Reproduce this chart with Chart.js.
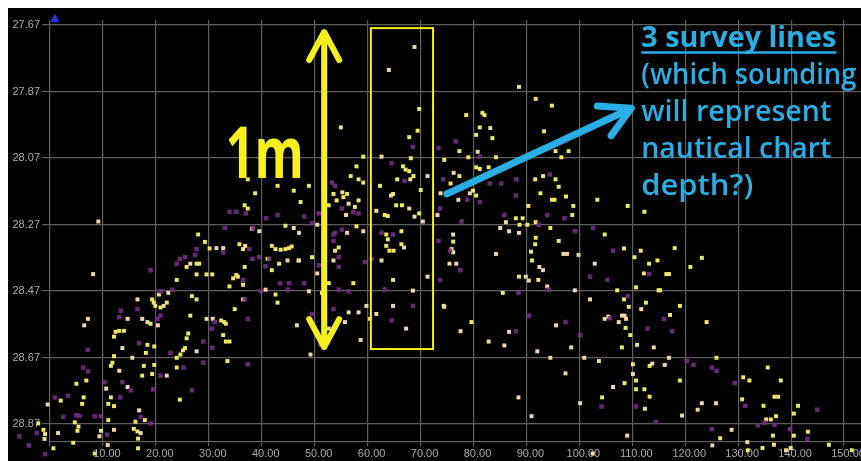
<!DOCTYPE html>
<html><head><meta charset="utf-8">
<script src="https://cdn.jsdelivr.net/npm/chart.js@4.4.1/dist/chart.umd.min.js"></script>
<style>
html,body{margin:0;padding:0;background:#fff;}
#wrap{position:absolute;left:8px;top:8px;width:853px;height:453px;background:#000;overflow:hidden;}
#wrap canvas{position:absolute;left:0;top:0;}
</style></head><body>
<div id="wrap"><canvas id="grid" width="853" height="453"></canvas><canvas id="pts" width="853" height="453"></canvas></div>
<script>
// ---- tick labels ----
const xTicks = [0,10,20,30,40,50,60,70,80,90,100,110,120,130,140,150];
const yTicks = [27.67,27.87,28.07,28.27,28.47,28.67,28.87];

// ---- soundings (distance along line, depth) ----
const yellowPts = [
[36.9,28.13],[38.3,28.173],[36.3,28.21],[36.9,28.22],[42.6,28.15],[45.7,28.165],[47,28.2],[44.1,28.273],[27.4,28.3],[28.7,28.323],
[29.6,28.343],[35.3,28.33],[36.4,28.335],[36,28.345],[41.5,28.335],[42.2,28.345],[43.2,28.347],[44.1,28.345],[44.8,28.342],[45.3,28.337],
[46.7,28.38],[42.9,28.39],[40.7,28.375],[36.3,28.4],[34.7,28.425],[34.1,28.435],[35,28.43],[33.4,28.46],[36,28.455],[41.5,28.41],
[42.2,28.485],[42.6,28.51],[27.1,28.39],[27.6,28.39],[25.2,28.4],[27.1,28.423],[29,28.423],[30.1,28.423],[23.3,28.44],[19.9,28.485],
[18.6,28.5],[18.9,28.51],[19.2,28.52],[20.2,28.525],[21.4,28.51],[26.2,28.49],[27.1,28.5],[25.9,28.55],[31.8,28.565],[32.4,28.57],
[32.7,28.575],[32.2,28.61],[32.7,28.63],[33.4,28.63],[34.4,28.53],[36,28.5],[25.5,28.605],[25.2,28.62],[24.9,28.65],[24.5,28.657],
[24,28.67],[23.3,28.68],[23.3,28.71],[33,28.69],[18.3,28.575],[11.6,28.6],[12.3,28.597],[13.2,28.597],[11.3,28.615],[11.3,28.675],
[11,28.695],[10.7,28.705],[17.7,28.64],[19,28.645],[17.4,28.665],[17,28.705],[19,28.702],[16.7,28.735],[18.6,28.73],[6,28.75],[4.1,28.76],
[1.1,28.812],[5.5,28.802],[5.2,28.822],[-3.2,28.882],[-2.2,28.902],[-1.9,28.915],[-2,28.93],[-0.3,28.959],[3.8,28.879],[4.5,28.892],
[4.3,28.905],[3.5,28.942],[7.6,28.975],[8.8,28.905],[10.2,28.872],[10.7,28.802],[10.2,28.822],[11.3,28.829],[15.4,28.877],[15.1,28.899],
[15.8,28.907],[15.9,28.929],[15.9,28.959],[17.2,28.872],[23.9,28.809],
[69.7,27.913],[69.4,27.98],[67.8,28.0],[54.7,27.97],[59,28.06],[66.6,28.09],[67.1,28.1],[67.8,28.105],[68.1,28.065],[68.6,28.12],
[68,28.13],[57.7,28.09],[56.6,28.12],[58.1,28.13],[59,28.14],[62.2,28.15],[64.7,28.175],[64.3,28.18],[65.5,28.13],[65.3,28.21],
[66.4,28.21],[69.7,28.235],[70,28.163],[63.1,28.24],[63.7,28.243],[63.4,28.3],[63.7,28.315],[63.4,28.335],[64,28.35],[64.8,28.35],
[66.3,28.33],[66.3,28.29],[64.7,28.44],[60.3,28.56],[48.6,28.15],[55,28.17],[55.2,28.185],[55.9,28.175],[53.3,28.175],[53.9,28.195],
[52.4,28.21],[57.4,28.215],[58.1,28.195],[57.7,28.275],[49.2,28.37],[52.4,28.45],[53.6,28.35],[54.3,28.34],[51.1,28.48],[57.1,28.45],
[88.8,27.845],[92,27.882],[95.1,27.903],[93.6,27.982],[78.7,27.932],[81.8,27.925],[82.2,27.932],[81.3,27.97],[80.6,27.993],[83.7,28.003],
[77.4,28.043],[79.1,28.062],[84.4,28.062],[74.5,28.07],[80.6,28.093],[81.3,28.098],[83,28.093],[77.4,28.12],[75.7,28.143],[80,28.165],
[80.6,28.18],[95.8,28.043],[98.3,28.043],[96.9,28.062],[91.9,28.13],[93.4,28.12],[95.8,28.13],[96.4,28.153],[92.9,28.173],[95.1,28.193],
[95.6,28.193],[97.8,28.183],[90.6,28.212],[99.2,28.212],[99,28.24],[103.8,28.193],[109.6,28.212],[112.8,28.23],[88.2,28.25],[89.5,28.25],
[88.9,28.27],[92,28.262],[94.8,28.28],[90.4,28.27],[105.2,28.3],[76.2,28.322],[75.9,28.345],[76.2,28.355],[92,28.31],[91.9,28.33],
[91.1,28.353],[96.4,28.32],[108.9,28.343],[110.9,28.37],
[79.7,28.57],[88.8,28.43],[92.5,28.44],[91.3,28.38],[85.7,28.48],[104.7,28.802],[107.6,28.472],[108.9,28.5],[109.8,28.523],[111.2,28.463],
[113.1,28.51],[112.7,28.42],[109.2,28.588],[110.1,28.61],[108.5,28.648],[110.6,28.7],[111.2,28.75],[109,28.758],[111.2,28.777],[112.8,28.777],
[112.9,28.837],
[112.1,28.35],[113.7,28.39],[115.3,28.38],[118.6,28.342],[121.6,28.4],[123.8,28.372],[117,28.422],[117.5,28.422],[115.5,28.472],[115.8,28.472],
[119.6,28.52],[117.7,28.548],[124.7,28.57],[126.6,28.68],[119.6,28.75],[113.8,28.8],[131.7,28.74],[132.9,28.75],[136.4,28.71],[138.9,28.75],
[131.5,28.808],[135.6,28.828],[137.7,28.8],[138.4,28.8],[142.2,28.828],[141.4,28.852],[138,28.86],[137,28.87],[136.1,28.87],[144.1,28.908],
[141.4,28.92],[137.4,28.92],[132.6,28.965],[135.4,28.958],[137.6,28.948],[140.8,28.958],[148.1,28.948],[152.5,28.965],[127.3,28.928],[113.8,28.705]
];
const creamPts = [
[8.3,28.26],[7.3,28.422],[37.7,28.282],[39.1,28.29],[45.7,28.28],[30.9,28.342],[32.2,28.342],[44.5,28.38],[40.3,28.47],[46.3,28.58],
[25.9,28.39],[21.7,28.48],[20.8,28.52],[29,28.56],[30.2,28.56],[16.7,28.56],[17.7,28.57],[19.7,28.58],[15.8,28.5],[13.9,28.56],
[12.9,28.65],[14.8,28.68],[12.3,28.72],[21.4,28.735],[6.3,28.56],[5.6,28.58],[9.8,28.775],[13.9,28.77],[27.1,28.66],
[-1.4,28.824],[0.6,28.912],[8.5,28.922],[11.3,28.902],[10.1,28.949],[16.1,28.842],[16.4,28.912],
[68.8,27.722],[63.9,27.793],[62.5,28.06],[67.8,28.22],[68.8,28.245],[70.4,28.26],[71.3,28.12],[61.5,28.227],[66.8,28.34],[62.5,28.38],
[68.5,28.473],[71.3,28.43],[64.7,28.52],[67.2,28.59],[61.5,28.545],[59.6,28.52],[58.1,28.54],[56.2,28.54],[55.5,28.57],[58.5,28.625],
[74.4,28.52],[56.2,28.205],[55.7,28.24],[59,28.29],[50.2,28.27],[50.2,28.42],[53.3,28.38],[55.9,28.295],[48.6,28.475],[52.4,28.59],
[48.9,28.67],[46.7,28.295],[46.6,28.38],
[83.3,27.972],[80.9,28.045],[76.3,28.11],[73.8,28.173],[79.4,28.173],[77.2,28.193],[73.2,28.24],[86.3,28.262],[85.2,28.28],[86.9,28.29],
[88.8,28.295],[76.2,28.3],[84.4,28.36],[97.3,28.36],[98,28.36],[100.2,28.363],
[75.5,28.39],[76.8,28.39],[74.5,28.523],[77.6,28.598],[90.1,28.43],[90.7,28.442],[92.7,28.40],[93.4,28.41],[94.2,28.46],[86.9,28.6],
[83,28.63],[86,28.642],[92.3,28.66],[94.8,28.68],[95.9,28.58],[98.8,28.648],[101.3,28.68],[104.1,28.69],[97.7,28.728],[88.7,28.802],
[91.2,28.86],[100.5,28.82],[106.8,28.77],[109.5,28.92],[102.9,28.975],[99.5,28.472],[102.4,28.5],[103.3,28.39],[105.2,28.56],[105.9,28.553],
[107.9,28.57],[108.5,28.55],[109,28.55],[109.3,28.56],[111.4,28.64],[112.2,28.53],[110.6,28.73],
[114.6,28.648],[117.5,28.68],[116.7,28.702],[114.3,28.698],[123.8,28.82],[123,28.84],[126.5,28.82],[120,28.858],[129.5,28.902],[125.8,28.95],
[132.5,28.94],[139.9,28.965]
];
const purplePts = [
[33.4,28.23],[34.7,28.23],[40.4,28.25],[42.6,28.24],[32.5,28.28],[27.1,28.345],[37.2,28.345],[39.1,28.37],[36,28.44],[44.8,28.45],
[44.6,28.47],[23.3,28.39],[23.9,28.375],[26.8,28.363],[24.9,28.37],[22.4,28.47],[20.2,28.475],[18.3,28.41],[36.9,28.56],[30,28.59],
[28.4,28.63],[19.6,28.56],[20.2,28.55],[15.8,28.53],[12.6,28.535],[12.3,28.555],[24.6,28.71],[28.4,28.695],[26.2,28.78],[36.9,28.7],
[6.3,28.655],[5.4,28.71],[9.5,28.755],[12.9,28.755],[14.5,28.78],[16.1,28.635],[20.2,28.735],[22.1,28.665],
[0,28.802],[2.5,28.797],[6.3,28.722],[4.1,28.857],[4.7,28.859],[1.6,28.862],[7.6,28.86],[8.8,28.86],[-6.8,28.922],[-3.5,28.912],
[-1.9,28.977],[10,28.917],[12.5,28.802],[16.4,28.862],[18.3,28.882],[18.8,28.777],[30.1,28.649],[-5,28.95],
[37.9,28.28],[36.5,28.235],[32.2,28.355],[37.8,28.375],[40.3,28.398],[41,28.375],[43.1,28.45],[36.3,28.5],[39.4,28.475],[30.6,28.57],
[68.5,28.03],[64.4,28.08],[66.9,28.135],[64.7,28.3],[62.5,28.295],[63.1,28.47],[68.5,28.52],[64.4,28.565],[53,28.14],[53.6,28.15],
[57.1,28.23],[58.1,28.235],[54.9,28.22],[54.9,28.285],[53.3,28.3],[50.5,28.235],[47.7,28.245],[49.2,28.265],[50.5,28.395],[54.3,28.37],
[54.3,28.4],[53.3,28.32],[53.6,28.295],[54.3,28.47],[56.2,28.475],[59.3,28.385],[60.6,28.375],[50.8,28.64],[49.2,28.545],[53.3,28.53],
[47.7,28.45],
[81.3,28.06],[76.7,28.013],[73.4,28.033],[74.3,28.13],[78.9,28.193],[81.3,28.2],[73.7,28.22],[83.2,28.143],[85.4,28.143],[88.3,28.13],
[94.7,28.115],[88.2,28.18],[86,28.24],[94.2,28.24],[97.5,28.25],[92.6,28.27],[99.5,28.29],[103,28.28],[77.8,28.26],[73.4,28.32],
[75.6,28.35],[106.8,28.35],
[77.6,28.41],[73.7,28.44],[94.5,28.47],[88.7,28.48],[90.7,28.55],[88.2,28.598],[97.7,28.57],[100.5,28.61],[104.6,28.83],[102.4,28.43],
[105.7,28.44],[106.2,28.558],[109.6,28.49],[111.2,28.83],
[113.7,28.422],[116.5,28.56],[113.4,28.59],[118.1,28.598],[120.9,28.69],[122.2,28.702],[125.7,28.71],[126.6,28.72],[115,28.878],[125.7,28.9],
[130.1,28.758],[132.1,28.828],[145.9,28.84],[135.8,28.88],[134.5,28.888],[137.7,28.887],[140.7,28.9],[144,28.93]
];
const axisMarker = [[0, 27.637]];

// ---- annotations (data coordinates) ----
const boxX = [60.46, 72.36], boxY = [27.664, 28.653];
const arrowX = 51.52, arrowY = [27.676, 28.647];
const bigLabel = '1m', bigLabelPos = [32.7, 28.127];
const calloutLines = ['3 survey lines', '(which sounding', 'will represent', 'nautical chart', 'depth?)'];
const calloutPos = [112.2, 27.721];
const pointerFrom = [75.0, 28.175], pointerTo = [110.3, 27.911];

// ---- styles ----
const GRID = '#5e5e5e', TICK = '#ababab';
const YEL = '#f7ef1e', BLUE = '#2aaee6';
const X_MIN = 0, X_MAX = 153.2, Y_MIN = 27.655, Y_MAX = 28.924;
const W = 853, H = 453;
const tickFont = {family: '"Liberation Sans", Arial, sans-serif', size: 11};

const gridChart = new Chart(document.getElementById('grid'), {
  type: 'scatter',
  data: {datasets: [{data: []}]},
  options: {
    responsive: false, animation: false, events: [],
    layout: {padding: {top: 12, left: 0, right: 0, bottom: 0}},
    plugins: {legend: {display: false}, tooltip: {enabled: false}},
    scales: {
      x: {
        type: 'linear', min: X_MIN, max: X_MAX,
        afterBuildTicks: s => { s.ticks = xTicks.map(v => ({value: v})); },
        afterFit: s => { s.height = 19; s.paddingLeft = 0; s.paddingRight = 0; },
        grid: {color: GRID, lineWidth: 1.2, tickLength: 4},
        border: {display: true, color: GRID, width: 1.2},
        ticks: {color: TICK, font: tickFont, padding: 1, labelOffset: 4, maxRotation: 0, autoSkip: false,
          callback: v => v === 0 ? '' : Number(v).toFixed(2)}
      },
      y: {
        type: 'linear', reverse: true, min: Y_MIN, max: Y_MAX,
        afterBuildTicks: s => { s.ticks = yTicks.map(v => ({value: v})); },
        afterFit: s => { s.width = 42; },
        grid: {color: GRID, lineWidth: 1.2, tickLength: 8},
        border: {display: false},
        ticks: {color: TICK, font: tickFont, padding: 2, autoSkip: false,
          callback: v => Number(v).toFixed(2)}
      }
    }
  }
});

// overlay chart: same mapping, full-canvas area so soundings can spill past the axes
const A = gridChart.chartArea;
const xPer = (X_MAX - X_MIN) / (A.right - A.left);
const yPer = (Y_MAX - Y_MIN) / (A.bottom - A.top);
const bxMin = X_MIN - A.left * xPer, bxMax = X_MAX + (W - A.right) * xPer;
const byMin = Y_MIN - A.top * yPer, byMax = Y_MAX + (H - A.bottom) * yPer;

function fitText(ctx, text, x, y, targetW) {
  const w = ctx.measureText(text).width;
  ctx.save(); ctx.translate(x, y);
  if (targetW) ctx.scale(targetW / w, 1);
  ctx.fillText(text, 0, 0);
  ctx.restore();
  return targetW || w;
}

const annot = {
  id: 'annot',
  afterDatasetsDraw(chart) {
    const {ctx} = chart, x = chart.scales.x, y = chart.scales.y;
    const px = v => x.getPixelForValue(v), py = v => y.getPixelForValue(v);
    ctx.save();
    // yellow box
    ctx.strokeStyle = YEL; ctx.lineWidth = 2;
    ctx.strokeRect(px(boxX[0]), py(boxY[0]), px(boxX[1]) - px(boxX[0]), py(boxY[1]) - py(boxY[0]));
    // yellow double arrow
    const ax = px(arrowX), a0 = py(arrowY[0]), a1 = py(arrowY[1]);
    ctx.lineWidth = 6; ctx.lineCap = 'round'; ctx.lineJoin = 'round';
    ctx.beginPath(); ctx.moveTo(ax, a0 + 3); ctx.lineTo(ax, a1 - 3); ctx.stroke();
    ctx.beginPath(); ctx.moveTo(ax - 15, a0 + 28); ctx.lineTo(ax, a0); ctx.lineTo(ax + 15, a0 + 28); ctx.stroke();
    ctx.beginPath(); ctx.moveTo(ax - 15, a1 - 28); ctx.lineTo(ax, a1); ctx.lineTo(ax + 15, a1 - 28); ctx.stroke();
    // 1m
    ctx.fillStyle = YEL; ctx.textBaseline = 'alphabetic'; ctx.textAlign = 'left';
    ctx.font = '700 72px "Open Sans", sans-serif';
    fitText(ctx, bigLabel, px(bigLabelPos[0]), py(bigLabelPos[1]), 78);
    // blue pointer arrow
    const t0x = px(pointerFrom[0]), t0y = py(pointerFrom[1]), t1x = px(pointerTo[0]), t1y = py(pointerTo[1]);
    ctx.strokeStyle = BLUE; ctx.lineWidth = 7;
    ctx.beginPath(); ctx.moveTo(t0x, t0y); ctx.lineTo(t1x - 3, t1y + 1.5); ctx.stroke();
    const ang = Math.atan2(t0y - t1y, t0x - t1x), spread = 0.5, len = 34;
    ctx.beginPath();
    ctx.moveTo(t1x + len * Math.cos(ang - spread), t1y + len * Math.sin(ang - spread));
    ctx.lineTo(t1x, t1y);
    ctx.lineTo(t1x + len * Math.cos(ang + spread), t1y + len * Math.sin(ang + spread));
    ctx.stroke();
    // callout text
    ctx.fillStyle = BLUE;
    const cx = px(calloutPos[0]), cy = py(calloutPos[1]);
    const widths = [195, 215, 190, 190, 112];
    calloutLines.forEach((t, i) => {
      ctx.font = (i === 0 ? '700' : '600') + ' 28px "Open Sans", sans-serif';
      const w = fitText(ctx, t, cx, cy + i * 37, widths[i]);
      if (i === 0) {
        ctx.lineWidth = 2.5; ctx.lineCap = 'butt';
        ctx.beginPath(); ctx.moveTo(cx, cy + 6); ctx.lineTo(cx + w, cy + 6); ctx.stroke();
      }
    });
    ctx.restore();
  }
};

const toXY = arr => arr.map(p => ({x: p[0], y: p[1]}));
const dot = (data, color, r) => ({data: toXY(data), backgroundColor: color, pointStyle: 'rect',
  pointRadius: r, pointBorderWidth: 0, borderWidth: 0, clip: false});

new Chart(document.getElementById('pts'), {
  type: 'scatter',
  data: {datasets: [
    dot(purplePts, 'rgba(122,45,140,0.85)', 3.2),
    dot(creamPts, '#f3d6a8', 2.8),
    dot(yellowPts, '#f1e665', 2.8),
    {data: toXY(axisMarker), backgroundColor: '#2233e0', pointStyle: 'triangle', pointRadius: 5.5,
     pointBorderWidth: 0, clip: false}
  ]},
  options: {
    responsive: false, animation: false, events: [],
    layout: {padding: 0},
    plugins: {legend: {display: false}, tooltip: {enabled: false}},
    scales: {
      x: {type: 'linear', display: false, min: bxMin, max: bxMax},
      y: {type: 'linear', display: false, reverse: true, min: byMin, max: byMax}
    }
  },
  plugins: [annot]
});
</script>
</body></html>
